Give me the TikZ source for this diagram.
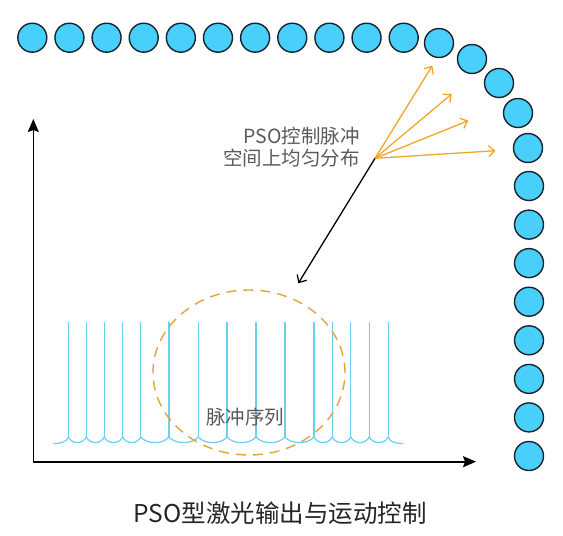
\documentclass[tikz,border=0pt]{standalone}
\usepackage{fontspec}
\setmainfont{Noto Sans CJK SC}
\usepackage{tikz}
\usetikzlibrary{arrows.meta, shapes.geometric}
\definecolor{beadFill}{RGB}{72,208,250}
\definecolor{beadLine}{RGB}{25,35,45}
\definecolor{pulseC}{RGB}{105,208,238}
\definecolor{fanC}{RGB}{240,166,40}
\definecolor{ringC}{RGB}{228,163,62}
\definecolor{txtG}{RGB}{90,90,90}

\begin{document}
\begin{tikzpicture}[x=1pt, y=-1pt,
    bead/.style={circle, draw=beadLine, line width=1.4pt, fill=beadFill, minimum size=29pt, inner sep=0pt},
    pulse/.style={pulseC, line width=1.2pt},
    fan/.style={fanC, line width=1.3pt, -{Straight Barb[length=6pt,width=11pt]}},
    axis/.style={line width=1.6pt, -{Stealth[length=13pt,width=11pt,inset=2pt]}},
    lbl/.style={font=\fontsize{19.5}{22.6}\selectfont, text=txtG, inner sep=0pt}
  ]
  \useasboundingbox (0,0) rectangle (563,536);

  % beads: top row, bend, right column
  \foreach \i in {1,...,11}
    \node[bead] (b\i) at ({32.3+(\i-1)*37.14}, 37.7) {};
  \foreach \i/\x/\y in {12/439/43, 13/472/59, 14/499/83, 15/518/113, 16/528/148}
    \node[bead] (b\i) at (\x,\y) {};
  \foreach \y [count=\n from 17] in {186, 224.6, 263.1, 301.7, 340.3, 378.9, 417.4, 456}
    \node[bead] (b\n) at (529,\y) {};

  % axes
  \coordinate (O) at (33.3,461.7);
  \coordinate (ytip) at (33.3,119);
  \coordinate (xtip) at (476,461.7);
  \draw[axis] (O) -- (ytip);
  \draw[axis] (O) -- (xtip);

  % pulse train
  \foreach \x in {68.3, 86.3, 104.3, 122.7, 140.7, 169, 198.3, 227, 256, 285, 314, 332.3, 350.7, 369.3, 388.3}
    \draw[pulse] (\x,321.7) -- (\x,437);
  \draw[pulse] (53.3,443.5) .. controls (62,443.5) and (67,441.5) .. (68.3,437)
    foreach \a/\b in {68.3/86.3, 86.3/104.3, 104.3/122.7, 122.7/140.7, 140.7/169, 169/198.3,
                      198.3/227, 227/256, 256/285, 285/314, 314/332.3, 332.3/350.7, 350.7/369.3, 369.3/388.3}
      { .. controls ({\a+0.22*(\b-\a)},444.5) and ({\b-0.22*(\b-\a)},444.5) .. (\b,437) }
    .. controls (389.6,441.5) and (394.6,443.5) .. (403.3,443.5);

  \node[ellipse, draw=ringC, dash pattern=on 10pt off 7pt, line width=1.4pt,
        minimum width=192pt, minimum height=165pt, inner sep=0pt] (ring) at (249,372.5) {};
  \node[lbl] (seq) at (245,416.7) {脉冲序列};

  % note and arrows
  \node[lbl, anchor=east, align=right] (note) at (360,147) {PSO控制脉冲\\空间上均匀分布};
  \coordinate (fan) at (375,158.3);
  \foreach \tx/\ty [count=\k] in {432.3/65.7, 451.7/94, 468.3/120.7, 495.5/150.7} {
    \coordinate (t\k) at (\tx,\ty);
    \draw[fan] (fan) -- (t\k);
  }
  \coordinate (ptr) at (298.3,283.3);
  \draw[line width=1.3pt, -{Straight Barb[length=6pt,width=11pt]}] (fan) -- (ptr);

  \node[font=\fontsize{24.5}{28}\selectfont, text=black!85, inner sep=0pt] (title) at (280,513.3) {PSO型激光输出与运动控制};
\end{tikzpicture}
\end{document}
